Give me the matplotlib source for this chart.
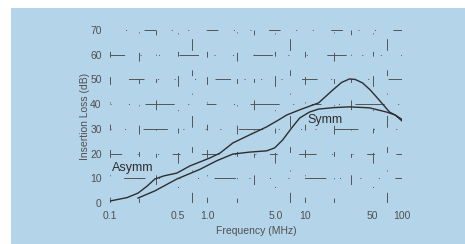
import numpy as np
import matplotlib
matplotlib.use("Agg")
import matplotlib.pyplot as plt
from matplotlib.patches import Rectangle

plt.rcParams['font.family'] = ['Liberation Sans', 'DejaVu Sans']

# Asymmetric insertion loss
asym_f = [0.1, 0.15, 0.194, 0.24, 0.289, 0.36, 0.486, 0.662, 1.06, 1.35, 1.83,
          2.8, 4.07, 5.5, 6.53, 8.89, 13.9, 19.4, 24.0, 28.9, 33.0, 39.3, 47.0,
          54.7, 64.0, 74.5, 86.0, 100.0]
asym_db = [0.8, 2.2, 4.0, 6.8, 9.7, 11.0, 12.1, 15.0, 18.2, 20.2, 24.3,
           27.8, 30.8, 33.8, 35.6, 37.7, 40.5, 45.7, 48.8, 50.2, 50.0, 48.6, 45.8,
           42.9, 39.8, 36.8, 35.5, 33.8]

# Symmetric insertion loss
sym_f = [0.194, 0.289, 0.486, 0.837, 1.25, 1.83, 2.73, 4.07, 4.92, 5.94, 7.36,
         8.89, 11.2, 13.9, 20.0, 28.9, 46.4, 69.4, 85.0, 100.0]
sym_db = [2.0, 4.9, 9.7, 13.6, 17.1, 19.8, 20.6, 21.1, 22.3, 25.5, 30.4,
          34.4, 36.8, 38.0, 38.6, 38.9, 38.5, 36.8, 35.6, 33.2]

xtick_vals = [0.1, 0.5, 1.0, 5.0, 10, 50, 100]
xtick_labels = ["0.1", "0.5", "1.0", "5.0", "10", "50", "100"]
ytick_vals = [0, 10, 20, 30, 40, 50, 60, 70]

bg = "#b4d4ea"
ink = "#2e2e2e"
grid_c = "#555555"
label_c = "#505050"

fig = plt.figure(figsize=(4.65, 2.44), dpi=100, facecolor="white")
fig.patches.append(Rectangle((11 / 465, 0), 1, 236 / 244, transform=fig.transFigure,
                             facecolor=bg, edgecolor="none", zorder=-10))

ax = fig.add_axes([110 / 465, 41 / 244, 292 / 465, 173 / 244])
ax.set_facecolor("none")
ax.set_xscale("log")
ax.set_xlim(0.1, 100)
ax.set_ylim(0, 70)
for s in ax.spines.values():
    s.set_visible(False)

# broken, scanned-looking grid
h_dashes = [(0, (14, 14, 1, 16, 1, 18, 20, 12, 1, 20)),
            (3, (1, 16, 22, 14, 1, 20, 1, 18)),
            (6, (18, 16, 1, 20, 1, 14, 8, 22)),
            (0, (1, 14, 1, 18, 25, 16, 1, 22)),
            (9, (10, 18, 1, 16, 30, 14, 1, 18)),
            (2, (1, 20, 16, 14, 1, 16, 1, 20)),
            (5, (20, 16, 1, 18, 1, 20)),
            (1, (1, 16, 1, 18, 12, 16))]
for i, yv in enumerate(ytick_vals):
    ax.plot([0.1, 100], [yv, yv], color=grid_c, lw=0.7,
            linestyle=h_dashes[i % len(h_dashes)], zorder=1)

v_pos = [m * 10.0 ** e for e in (-1, 0, 1) for m in (1, 2, 3, 5, 7)] + [100]
v_dashes = [(0, (6, 22, 1, 18, 8, 20)),
            (4, (9, 20, 1, 22, 5, 18)),
            (2, (1, 20, 10, 18, 4, 24)),
            (7, (5, 18, 1, 24, 11, 20)),
            (1, (12, 22, 1, 18, 6, 20))]
for i, xv in enumerate(v_pos):
    ax.plot([xv, xv], [0, 70], color=grid_c, lw=0.7,
            linestyle=v_dashes[i % len(v_dashes)], zorder=1)

ax.plot(asym_f, asym_db, color=ink, lw=1.0, zorder=3)
ax.plot(sym_f, sym_db, color=ink, lw=1.0, zorder=3)

ax.text(0.105, 14, "Asymm", fontsize=9, color=ink, va="center", ha="left")
ax.text(10.6, 33.5, "Symm", fontsize=9, color=ink, va="center", ha="left")

ax.set_xticks(xtick_vals)
ax.set_xticklabels(xtick_labels)
ax.xaxis.set_minor_locator(matplotlib.ticker.NullLocator())
ax.set_yticks(ytick_vals)
ax.tick_params(length=0, labelsize=7.5, labelcolor=label_c, pad=6)
ax.set_xlabel("Frequency (MHz)", fontsize=7.5, color=label_c, labelpad=3)
ax.set_ylabel("Insertion Loss (dB)", fontsize=7.5, color=label_c, labelpad=0)

fig.savefig("out.png", dpi=100, facecolor="white")
